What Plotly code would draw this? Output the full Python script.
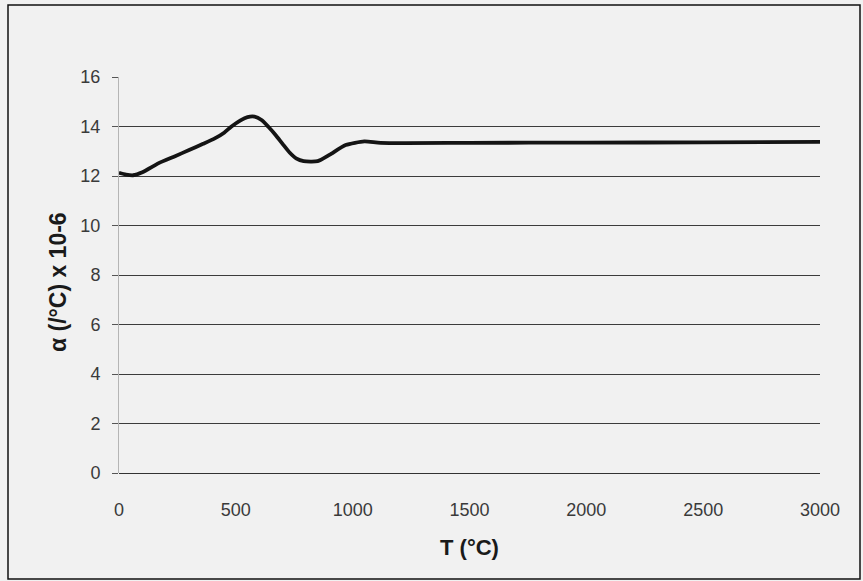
import plotly.graph_objects as go

# Data
temperature_c = [0, 30, 60, 100, 170, 240, 300, 360, 410, 450, 480, 520, 550, 580,
                 610, 640, 670, 700, 730, 760, 790, 850, 900, 970, 1050, 1120,
                 1500, 2000, 2500, 3000]
alpha_1e6 = [12.13, 12.06, 12.03, 12.15, 12.52, 12.80, 13.05, 13.30, 13.52, 13.75,
             13.99, 14.25, 14.38, 14.40, 14.26, 13.98, 13.66, 13.30, 12.95, 12.70,
             12.60, 12.60, 12.85, 13.25, 13.40, 13.34, 13.34, 13.35, 13.36, 13.38]

x_ticks = [0, 500, 1000, 1500, 2000, 2500, 3000]
y_ticks = [0, 2, 4, 6, 8, 10, 12, 14, 16]

x_title = "T (°C)"
y_title = "α (/°C) x 10-6"

FONT = "Liberation Sans, Arial, sans-serif"
BG = "#f1f1f1"

fig = go.Figure()
fig.add_trace(go.Scatter(
    x=temperature_c, y=alpha_1e6, mode="lines",
    line=dict(color="#141414", width=3.8, shape="spline", smoothing=0.6),
    showlegend=False, hoverinfo="skip",
))

# plot area: left 119, right 820, top 77, bottom 473 (in a 863x581 page)
L, R, T, B = 119, 820, 77, 473
W, H = 863, 581
pw, ph = R - L, B - T

def px_to_paper_x(px):
    return (px - L) / pw

def px_to_paper_y(py):
    return (B - py) / ph

fig.add_shape(type="rect", xref="paper", yref="paper",
              x0=px_to_paper_x(8), x1=px_to_paper_x(860),
              y0=px_to_paper_y(579), y1=px_to_paper_y(5),
              line=dict(color="#111111", width=1.5), fillcolor="rgba(0,0,0,0)",
              layer="below")

# axis titles
fig.add_annotation(text="<b>" + y_title + "</b>", textangle=-90,
                   xref="paper", yref="paper",
                   x=px_to_paper_x(58), y=px_to_paper_y(282),
                   xanchor="center", yanchor="middle", showarrow=False,
                   font=dict(size=23, color="#1a1a1a", family=FONT))
fig.add_annotation(text="<b>" + x_title + "</b>",
                   xref="paper", yref="paper",
                   x=px_to_paper_x(470), y=px_to_paper_y(547),
                   xanchor="center", yanchor="middle", showarrow=False,
                   font=dict(size=22, color="#1a1a1a", family=FONT))

fig.update_layout(
    width=W, height=H,
    margin=dict(l=L, r=W - R, t=T, b=H - B, autoexpand=False),
    paper_bgcolor=BG, plot_bgcolor=BG,
    font=dict(family=FONT, color="#333333", size=18),
    xaxis=dict(
        range=[0, 3000], tickvals=x_ticks, ticktext=[str(v) for v in x_ticks],
        showgrid=False, zeroline=False, showline=False,
        ticks="outside", ticklen=20, tickcolor="rgba(0,0,0,0)",
        tickfont=dict(size=18, color="#3a3a3a"),
        fixedrange=True,
    ),
    yaxis=dict(
        range=[0, 16], tickvals=y_ticks, ticktext=[str(v) for v in y_ticks],
        showgrid=True, gridcolor="#3c3c3c", gridwidth=1,
        zeroline=True, zerolinecolor="#333333", zerolinewidth=1.2,
        showline=True, linecolor="#b5b5b5", linewidth=1,
        ticks="outside", ticklen=6, tickcolor="#555555",
        ticklabelstandoff=8,
        tickfont=dict(size=18, color="#3a3a3a"),
        fixedrange=True,
    ),
)
fig.write_html(
    "out.html",
    config={"displayModeBar": False},
    post_script="document.body.style.margin='0';document.body.style.background='" + BG + "';",
)
